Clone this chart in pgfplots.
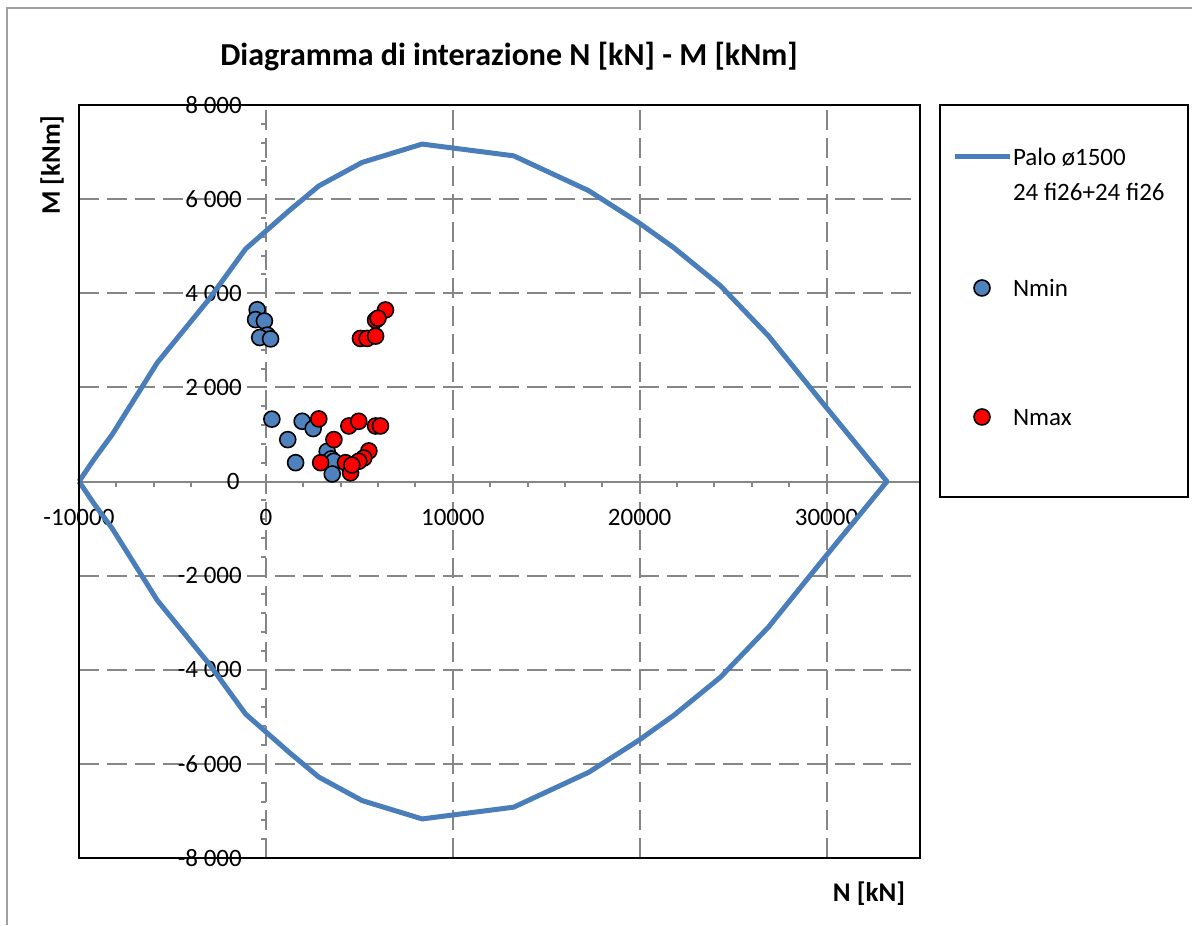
\documentclass[border=0pt]{standalone}
\usepackage{fontspec}
\setmainfont{Carlito}
\usepackage{pgfplots}
\usepackage{pgfplotstable}
\pgfplotsset{compat=1.18}
\definecolor{lineblue}{RGB}{74,126,187}
\definecolor{markblue}{RGB}{79,129,189}
\definecolor{gridgray}{RGB}{134,134,134}
\definecolor{framegray}{RGB}{160,160,160}
\pgfplotsset{
  linelegend/.style={legend image code/.code={\draw[##1] (0pt,0pt) -- (27.5pt,0pt);}},
  marklegend/.style={legend image code/.code={\draw[mark repeat=2,mark phase=2,##1] plot coordinates {(0pt,0pt) (13.75pt,0pt) (27.5pt,0pt)};}},
}

\pgfplotstableread{
N M
-10000 0
-9200 470
-8220 1000
-5810 2525
-3050 3870
-1090 4940
1230 5750
2830 6280
5150 6780
8360 7170
13260 6920
17270 6180
19950 5500
21820 4970
24320 4160
26900 3090
29930 1600
33230 0
29930 -1600
26900 -3090
24320 -4160
21820 -4970
19950 -5500
17270 -6180
13260 -6920
8360 -7170
5150 -6780
2830 -6280
1230 -5750
-1090 -4940
-3050 -3870
-5810 -2525
-8220 -1000
-9200 -470
-10000 0
}\envelope

\pgfplotstableread{
N M
-465 3650
-550 3440
-80 3410
70 3110
-330 3060
250 3030
320 1325
1170 890
1940 1280
2530 1125
1590 400
3280 640
3500 480
3640 430
3550 160
}\nmin

\pgfplotstableread{
N M
6400 3645
5870 3430
6000 3470
5060 3040
5420 3040
5870 3090
2830 1330
4440 1180
4970 1280
5870 1180
6130 1180
3640 890
2930 400
5510 650
5240 500
4970 430
4260 400
4530 185
4600 350
}\nmax

\begin{document}
\begin{tikzpicture}[x=1pt,y=1pt]
\useasboundingbox (0,0) rectangle (596,462.5);
\draw[framegray, line width=1pt] (3.5,0) -- (3.5,458.5) -- (596,458.5);
\node[font=\fontsize{16}{19}\selectfont\bfseries] at (254.5,434) {Diagramma di interazione N [kN] - M [kNm]};
\node[font=\fontsize{13.4}{16}\selectfont\bfseries, rotate=90] at (26,380) {M [kNm]};
\node[font=\fontsize{13.5}{16}\selectfont\bfseries] at (434.5,15.5) {N [kN]};
\draw[black, line width=0.75pt] (470,410) rectangle (594,214);
\begin{axis}[
  at={(39.5pt,33.5pt)}, anchor=south west,
  scale only axis, width=420.5pt, height=376.5pt,
  xmin=-10000, xmax=35000, ymin=-8000, ymax=8000,
  axis lines=middle,
  axis line style={-},
  x axis line style={draw=gridgray, line width=1pt},
  y axis line style={draw=gridgray, line width=1pt, dash pattern=on 10pt off 4pt},
  xtick={-10000,0,10000,20000,30000},
  ytick={-8000,-6000,-4000,-2000,0,2000,4000,6000,8000},
  scaled x ticks=false, scaled y ticks=false,
  minor x tick num=4, minor y tick num=4,
  tick align=outside, major tick length=5pt, minor tick length=2.5pt,
  every tick/.style={gridgray, line width=1pt, solid},
  grid=major,
  major grid style={gridgray, line width=1pt, dash pattern=on 10pt off 4pt},
  /pgf/number format/assume math mode=true,
  ticklabel style={font=\fontsize{12.5}{15}\selectfont, text=black},
  xticklabel style={/pgf/number format/1000 sep={}, yshift=-5.5pt},
  yticklabel style={/pgf/number format/1000 sep={\ }, xshift=-3.5pt},
  clip=false,
  legend cell align=left,
  legend style={at={(1.03805,0.9861)}, anchor=north west, draw=none, fill=none,
    inner sep=0pt, outer sep=0pt, row sep=0pt, column sep=0.5pt,
    nodes={inner sep=0pt, outer sep=0pt},
    font=\fontsize{12.5}{15}\selectfont},
]
\addplot[lineblue, line width=2.5pt, line join=round, linelegend]
  table[x=N, y=M] {\envelope};
\addlegendentry{\rule{0pt}{40pt}\raisebox{15pt}{\begin{tabular}[t]{@{}l@{}}Palo ø1500\\[2.4pt]24 fi26+24 fi26\end{tabular}}}
\addplot[only marks, mark=*, mark size=4pt, mark options={fill=markblue, draw=black, line width=0.8pt}, marklegend]
  table[x=N, y=M] {\nmin};
\addlegendentry{\rule{0pt}{88pt}\raisebox{39pt}{Nmin}}
\addplot[only marks, mark=*, mark size=4pt, mark options={fill=red, draw=black, line width=0.8pt}, marklegend]
  table[x=N, y=M] {\nmax};
\addlegendentry{\rule{0pt}{38pt}\raisebox{14pt}{Nmax}}
\draw[black, line width=1pt] (rel axis cs:0,0) rectangle (rel axis cs:1,1);
\node[anchor=east, xshift=-13pt, font=\fontsize{12.5}{15}\selectfont, inner sep=0pt] at (axis cs:0,0) {0};
\node[yshift=-18pt, font=\fontsize{12.5}{15}\selectfont, inner sep=0pt] at (axis cs:0,0) {0};
\end{axis}
\end{tikzpicture}
\end{document}
